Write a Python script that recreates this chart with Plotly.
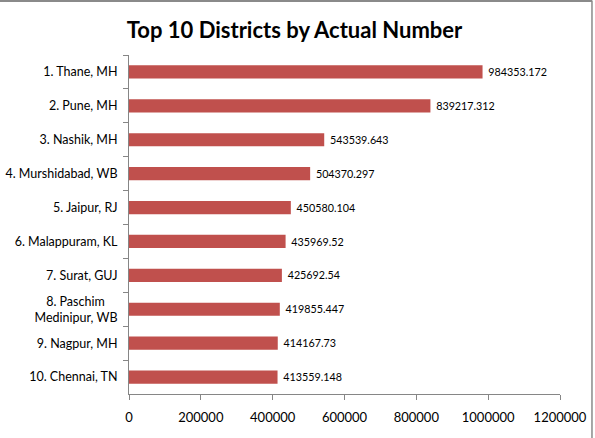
import plotly.graph_objects as go

districts = ["1. Thane, MH", "2. Pune, MH", "3. Nashik, MH", "4. Murshidabad, WB",
             "5. Jaipur, RJ", "6. Malappuram, KL", "7. Surat, GUJ",
             "8. Paschim\u00a0\u00a0\u00a0\u00a0<br>Medinipur, WB", "9. Nagpur, MH", "10. Chennai, TN"]
values = [984353.172, 839217.312, 543539.643, 504370.297, 450580.104,
          435969.52, 425692.54, 419855.447, 414167.73, 413559.148]
value_labels = ["984353.172", "839217.312", "543539.643", "504370.297", "450580.104",
                "435969.52", "425692.54", "419855.447", "414167.73", "413559.148"]
x_ticks = [0, 200000, 400000, 600000, 800000, 1000000, 1200000]

FONT = "Lato"

fig = go.Figure(go.Bar(
    x=values, y=districts, orientation="h",
    marker=dict(color="#C0504D", line=dict(width=0)),
    text=["\u00a0" + t for t in value_labels], textposition="outside", cliponaxis=False,
    textfont=dict(family=FONT, size=13, color="black"),
))

fig.update_layout(
    width=595, height=438,
    margin=dict(l=129, r=35, t=55, b=44, autoexpand=False),
    paper_bgcolor="white", plot_bgcolor="white",
    bargap=0.61,
    showlegend=False,
    title=dict(text="<b>Top 10 Districts by Actual Number</b>", x=0.495, xanchor="center",
               y=0.93, yanchor="middle",
               font=dict(family=FONT, size=22, color="black")),
    font=dict(family=FONT, size=12, color="black"),
)
fig.update_xaxes(range=[0, 1200000], tickvals=x_ticks, ticktext=[str(v) for v in x_ticks],
                 showgrid=False, zeroline=False, showline=True, linecolor="#868686",
                 ticks="outside", ticklen=5, tickcolor="#868686", automargin=False,
                 tickfont=dict(family=FONT, size=13, color="black"), ticklabelstandoff=6)
fig.update_yaxes(autorange="reversed", showgrid=False, showline=True, linecolor="#868686",
                 ticks="outside", ticklen=5, tickcolor="#868686", tickson="boundaries",
                 automargin=False,
                 tickfont=dict(family=FONT, size=12.5, color="black"), ticklabelstandoff=8)

# chart frame (top and right edges)
fig.add_shape(type="line", xref="paper", yref="paper", x0=-0.4, x1=1.0742, y0=1.1595, y1=1.1595,
              line=dict(color="#8a8a8a", width=2))
fig.add_shape(type="line", xref="paper", yref="paper", x0=1.0742, x1=1.0742, y0=1.161, y1=-0.2,
              line=dict(color="#8a8a8a", width=1.5))

fig.write_html("out.html", config={"displayModeBar": False},
               post_script="document.body.style.margin='0';document.body.style.overflow='hidden';")
